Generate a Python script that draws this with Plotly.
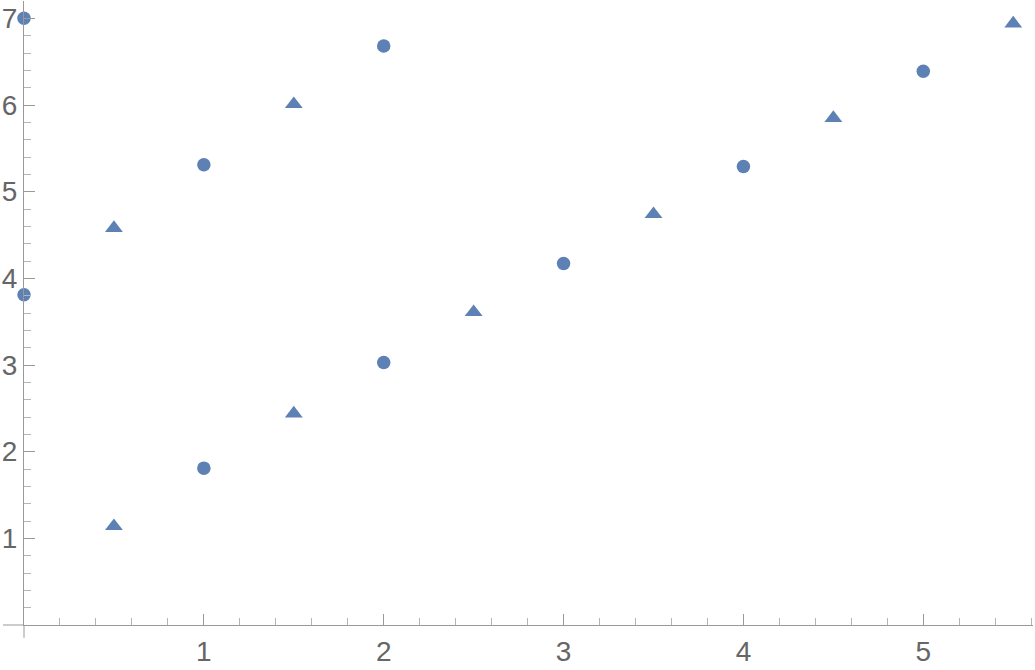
import plotly.graph_objects as go

# values
circle_x = [0, 0, 1, 1, 2, 2, 3, 4, 5]
circle_y = [7.0, 3.81, 5.31, 1.81, 6.68, 3.03, 4.17, 5.29, 6.39]

triangle_x = [0.5, 0.5, 1.5, 1.5, 2.5, 3.5, 4.5, 5.5]
triangle_y = [4.58, 1.14, 6.01, 2.44, 3.61, 4.74, 5.85, 6.94]

x_ticks = [1, 2, 3, 4, 5]
y_ticks = [1, 2, 3, 4, 5, 6, 7]

blue = "#5E81B5"
axis_grey = "#999999"
label_grey = "#666666"

circles = go.Scatter(
    x=circle_x, y=circle_y, mode="markers", name="circles",
    marker=dict(symbol="circle", size=13.5, color=blue),
    cliponaxis=False,
)
triangles = go.Scatter(
    x=triangle_x, y=triangle_y, mode="markers", name="triangles",
    marker=dict(symbol="triangle-up", size=15.5, color=blue),
    cliponaxis=False,
)

axis_common = dict(
    automargin=False,
    showgrid=False,
    zeroline=False,
    showline=True,
    linecolor=axis_grey,
    linewidth=1,
    ticks="inside",
    ticklen=11,
    tickwidth=1,
    tickcolor=axis_grey,
    tickfont=dict(family="Liberation Sans, Arial, sans-serif", size=28, color=label_grey),
    minor=dict(ticks="inside", ticklen=7, tickwidth=1, tickcolor="#b5b5b5", tick0=0, dtick=0.2),
)

layout = go.Layout(
    width=1035,
    height=670,
    margin=dict(l=24, r=2, t=1, b=45),
    paper_bgcolor="white",
    plot_bgcolor="white",
    showlegend=False,
    xaxis=dict(range=[0, 5.61], tickmode="array", tickvals=x_ticks,
               ticktext=[str(v) for v in x_ticks], ticklabelstandoff=1, **axis_common),
    yaxis=dict(range=[0, 7.2], tickmode="array", tickvals=y_ticks,
               ticktext=[str(v) for v in y_ticks], ticklabelstandoff=0, **axis_common),
    shapes=[
        # short overhang of each axis past the origin, as in the original
        dict(type="line", xref="paper", yref="paper", x0=0, x1=0, y0=0, y1=-0.0205,
             line=dict(color=axis_grey, width=1)),
        dict(type="line", xref="paper", yref="paper", x0=0, x1=-0.0208, y0=0, y1=0,
             line=dict(color=axis_grey, width=1)),
    ],
)

fig = go.Figure(data=[circles, triangles], layout=layout)
# drop the browser's default page margin so the figure sits at the window corner
fig.write_html("out.html", config={"displayModeBar": False},
               post_script="document.body.style.margin='0';document.body.style.overflow='hidden';")
